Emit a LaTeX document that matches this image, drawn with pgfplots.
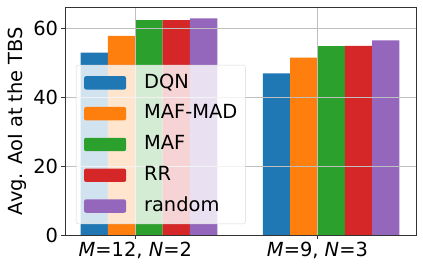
\documentclass[border=0pt]{standalone}
\usepackage{pgfplots}
\pgfplotsset{compat=1.18}
\usepackage{fontspec}
\setmainfont{DejaVu Sans}
\definecolor{c1}{HTML}{1F77B4}
\definecolor{c2}{HTML}{FF7F0E}
\definecolor{c3}{HTML}{2CA02C}
\definecolor{c4}{HTML}{D62728}
\definecolor{c5}{HTML}{9467BD}
\pgfplotsset{mylegend/.style={legend image code/.code={\fill[##1, fill opacity=1] (0bp,-6.7bp) rectangle (42bp,6.7bp);}}}
\begin{document}
\begin{tikzpicture}
\begin{axis}[
  scale only axis, width=351bp, height=228bp,
  xmin=-0.386, xmax=1.541, ymin=0, ymax=66.3,
  xtick={0,1},
  xticklabels={{\textit{M}=12, \textit{N}=2},{\textit{M}=9, \textit{N}=3}},
  ytick={0,20,40,60},
  /pgf/number format/assume math mode=true,
  tick label style={font=\fontsize{19.5}{22}\selectfont},
  label style={font=\fontsize{19.5}{22}\selectfont},
  ylabel={Avg. AoI at the TBS},
  grid=major, grid style={color=black!25, line width=0.8bp},
  axis on top,
  axis line style={color=black!80, line width=0.9bp},
  tick align=outside, tick pos=left,
  tick style={color=black!80, line width=0.9bp},
  major tick length=3.5bp,
  legend cell align=left,
  legend style={at={(0.031,0.746)}, anchor=north west,
    fill=white, fill opacity=0.8, text opacity=1, draw=black!15, rounded corners=2bp,
    font=\fontsize{19.5}{22}\selectfont,
    inner xsep=8bp, inner ysep=8.5bp,
    nodes={inner sep=0pt, text height=14.5bp, text depth=4bp},
    row sep=12.3bp,
    /tikz/every odd column/.append style={column sep=18bp}},
]
\addplot[ybar, bar width=0.15, bar shift=-0.225, fill=c1, draw=none, mylegend] coordinates {(0,53.0) (1,47.0)};
\addplot[ybar, bar width=0.15, bar shift=-0.075, fill=c2, draw=none, mylegend] coordinates {(0,57.9) (1,51.6)};
\addplot[ybar, bar width=0.15, bar shift=0.075, fill=c3, draw=none, mylegend] coordinates {(0,62.5) (1,54.9)};
\addplot[ybar, bar width=0.15, bar shift=0.225, fill=c4, draw=none, mylegend] coordinates {(0,62.5) (1,55.0)};
\addplot[ybar, bar width=0.15, bar shift=0.375, fill=c5, draw=none, mylegend] coordinates {(0,63.0) (1,56.6)};
\legend{DQN, MAF-MAD\hspace{4bp}, MAF, RR, random}
\end{axis}
\pgfresetboundingbox
\path ([shift={(-65bp,-35bp)}]current axis.south west) rectangle ([shift={(7bp,7bp)}]current axis.north east);
\end{tikzpicture}
\end{document}
